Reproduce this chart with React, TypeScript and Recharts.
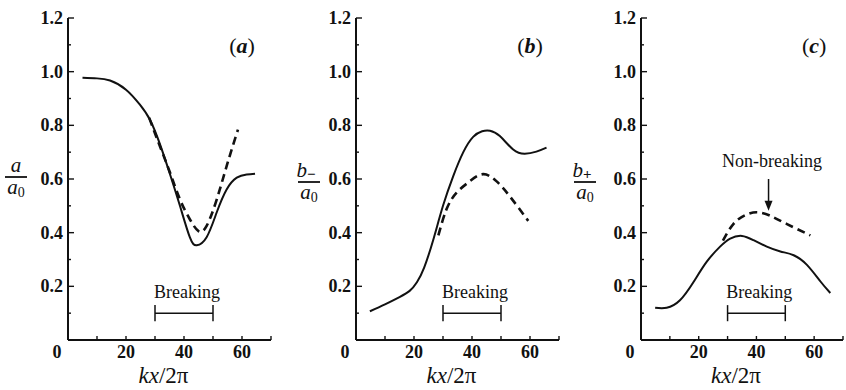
import React from 'react';
import { LineChart, Line, XAxis, YAxis, ReferenceLine, ReferenceDot } from 'recharts';

const FONT = 'Liberation Serif';
const INK = '#111111';

// axes
const xDomain = [0, 70];
const xTicks = [0, 10, 20, 30, 40, 50, 60, 70];
const xLabelTicks = [0, 20, 40, 60];
const yDomain = [0, 1.2];
const yTicks = [0, 0.1, 0.2, 0.3, 0.4, 0.5, 0.6, 0.7, 0.8, 0.9, 1.0, 1.1, 1.2];
const yLabelTicks = [0.2, 0.4, 0.6, 0.8, 1.0, 1.2];

// panel (a): a / a0
const aSolidX = [5, 10, 14.5, 20, 24.8, 28.3, 31.7, 35.2, 38.6, 42, 44.4, 47.8, 51.3, 54.7, 58.2, 61.6, 64.5];
const aSolidY = [0.977, 0.975, 0.967, 0.933, 0.877, 0.82, 0.73, 0.617, 0.5, 0.383, 0.353, 0.383, 0.476, 0.561, 0.605, 0.617, 0.62];
const aDashX = [28, 31.7, 35.2, 38.6, 42, 45, 47.8, 51.3, 54.7, 58.6];
const aDashY = [0.828, 0.722, 0.623, 0.524, 0.45, 0.406, 0.425, 0.524, 0.648, 0.784];

// panel (b): b- / a0
const bSolidX = [4.8, 10, 15, 18.5, 21, 23.5, 26.6, 30, 33.5, 37, 40.4, 43.5, 46.2, 49.6, 54.2, 58.2, 62.2, 65.7];
const bSolidY = [0.107, 0.133, 0.16, 0.183, 0.215, 0.27, 0.372, 0.5, 0.61, 0.7, 0.757, 0.778, 0.78, 0.76, 0.71, 0.694, 0.702, 0.717];
const bDashX = [28.4, 31.2, 34.7, 39.3, 43.9, 48.4, 53, 59.4];
const bDashY = [0.39, 0.487, 0.549, 0.592, 0.618, 0.592, 0.536, 0.444];

// panel (c): b+ / a0
const cSolidX = [4.9, 8.9, 13.5, 18.2, 22.8, 27.4, 30.9, 35, 39, 43.6, 48.3, 52.9, 57.5, 62.2, 65.6];
const cSolidY = [0.12, 0.12, 0.148, 0.216, 0.292, 0.348, 0.378, 0.388, 0.372, 0.348, 0.33, 0.316, 0.28, 0.218, 0.175];
const cDashX = [28.4, 32, 36.1, 40.2, 44.8, 50.6, 58.7];
const cDashY = [0.37, 0.432, 0.465, 0.476, 0.463, 0.432, 0.39];

// annotations
const breakingStart = 30;
const breakingEnd = 50;
const breakingLevel = 0.1;
const breakingCapLow = 0.07;
const breakingCapHigh = 0.13;
const breakingTextX = 41;
const breakingTextY = 0.18;
const panelTagX = 60;
const panelTagY = 1.1;
const nonBreakText = 'Non-breaking';
const nonBreakTextX = 45.4;
const nonBreakTextY = 0.667;
const arrowX = 44.2;
const arrowFromY = 0.6;
const arrowToY = 0.482;

const zip = (xs: number[], ys: number[]) => xs.map((x, i) => ({ x, y: ys[i] }));

const BottomTick = (props: any) => {
  const { x, y, payload } = props;
  const v = payload.value;
  const show = xLabelTicks.includes(v);
  return (
    <g>
      <line x1={x} y1={y} x2={x} y2={y - 4} stroke={INK} strokeWidth={1.4} />
      {show && (
        <text x={v === 0 ? x - 11 : x} y={y + 18} textAnchor="middle" fontFamily={FONT} fontWeight={700} fontSize={18} fill={INK}>
          {v}
        </text>
      )}
    </g>
  );
};

const TopTick = (props: any) => {
  const { x, y } = props;
  return <line x1={x} y1={y} x2={x} y2={y + 4} stroke={INK} strokeWidth={1.4} />;
};

const isMajorY = (v: number) => Math.round(v * 10) % 2 === 0;

const LeftTick = (props: any) => {
  const { x, y, payload } = props;
  const v = payload.value;
  const len = isMajorY(v) ? 6 : 3;
  const show = yLabelTicks.some((t) => Math.abs(t - v) < 1e-6);
  return (
    <g>
      <line x1={x} y1={y} x2={x + len} y2={y} stroke={INK} strokeWidth={1.4} />
      {show && (
        <text x={x - 5} y={y + 6} textAnchor="end" fontFamily={FONT} fontWeight={700} fontSize={18} fill={INK}>
          {v.toFixed(1)}
        </text>
      )}
    </g>
  );
};

const RightTick = (props: any) => {
  const { x, y, payload } = props;
  const len = isMajorY(payload.value) ? 6 : 3;
  return <line x1={x} y1={y} x2={x - len} y2={y} stroke={INK} strokeWidth={1.4} />;
};

const xTitle = (props: any) => {
  const vb = props.viewBox || {};
  const cx = vb.x + vb.width / 2 - 6;
  return (
    <text x={cx} y={vb.y + 43} textAnchor="middle" fontFamily={FONT} fontSize={23} fill={INK}>
      <tspan fontStyle="italic">kx</tspan>
      <tspan>/2π</tspan>
    </text>
  );
};

const makeYTitle = (num: string, sub: string, centerX: number, lineY: number) => (props: any) => {
  const vb = props.viewBox || {};
  const cx = vb.x + centerX;
  return (
    <g>
      <text x={cx - (sub ? 3 : 0)} y={lineY - 5} textAnchor="middle" fontFamily={FONT} fontSize={21} fontStyle="italic" fill={INK}>
        {num}
        {sub && (
          <tspan fontSize={15} fontStyle="normal" fontWeight={700} dy={2}>
            {sub}
          </tspan>
        )}
      </text>
      <line x1={cx - 11} y1={lineY} x2={cx + 11} y2={lineY} stroke={INK} strokeWidth={1.8} />
      <text x={cx} y={lineY + 17} textAnchor="middle" fontFamily={FONT} fontSize={21} fontStyle="italic" fill={INK}>
        a
        <tspan fontSize={14} fontStyle="normal" dy={3}>0</tspan>
      </text>
    </g>
  );
};

type PanelProps = {
  left: number;
  width: number;
  yAxisWidth: number;
  marginRight: number;
  solid: { x: number; y: number }[];
  dashed: { x: number; y: number }[];
  tag: string;
  num: string;
  sub: string;
  titleX: number;
  titleLineY: number;
  arrow?: boolean;
};

const Panel = (p: PanelProps) => (
  <div style={{ position: 'absolute', left: p.left, top: 0 }}>
    <LineChart width={p.width} height={390} margin={{ top: 18, right: p.marginRight, left: 0, bottom: 0 }}>
      <XAxis
        xAxisId={0}
        dataKey="x"
        type="number"
        domain={xDomain}
        ticks={xTicks}
        interval={0}
        allowDataOverflow
        height={50}
        tickSize={0}
        tickMargin={0}
        tickLine={false}
        axisLine={{ stroke: INK, strokeWidth: 2 }}
        tick={<BottomTick />}
        label={{ content: xTitle }}
      />
      <XAxis
        xAxisId="t"
        orientation="top"
        dataKey="x"
        type="number"
        domain={xDomain}
        ticks={xTicks}
        interval={0}
        allowDataOverflow
        height={0}
        tickSize={0}
        tickMargin={0}
        tickLine={false}
        axisLine={{ stroke: INK, strokeWidth: 2 }}
        tick={<TopTick />}
      />
      <YAxis
        yAxisId={0}
        type="number"
        domain={yDomain}
        ticks={yTicks}
        interval={0}
        allowDataOverflow
        width={p.yAxisWidth}
        tickSize={0}
        tickMargin={0}
        tickLine={false}
        axisLine={{ stroke: INK, strokeWidth: 2 }}
        tick={<LeftTick />}
        label={{ content: makeYTitle(p.num, p.sub, p.titleX, p.titleLineY) }}
      />
      <YAxis
        yAxisId="r"
        orientation="right"
        type="number"
        domain={yDomain}
        ticks={yTicks}
        interval={0}
        allowDataOverflow
        width={0}
        tickSize={0}
        tickMargin={0}
        tickLine={false}
        axisLine={{ stroke: INK, strokeWidth: 2 }}
        tick={<RightTick />}
      />
      <Line
        data={p.solid}
        dataKey="y"
        type="natural"
        stroke={INK}
        strokeWidth={2}
        dot={false}
        isAnimationActive={false}
      />
      <Line
        data={p.dashed}
        dataKey="y"
        type="natural"
        stroke={INK}
        strokeWidth={2.6}
        strokeDasharray="8 5"
        dot={false}
        isAnimationActive={false}
      />
      <ReferenceLine
        segment={[
          { x: breakingStart, y: breakingLevel },
          { x: breakingEnd, y: breakingLevel },
        ]}
        stroke={INK}
        strokeWidth={1.5}
      />
      <ReferenceLine
        segment={[
          { x: breakingStart, y: breakingCapLow },
          { x: breakingStart, y: breakingCapHigh },
        ]}
        stroke={INK}
        strokeWidth={1.5}
      />
      <ReferenceLine
        segment={[
          { x: breakingEnd, y: breakingCapLow },
          { x: breakingEnd, y: breakingCapHigh },
        ]}
        stroke={INK}
        strokeWidth={1.5}
      />
      <ReferenceDot
        x={breakingTextX}
        y={breakingTextY}
        r={0}
        shape={(s: any) => (
          <text x={s.cx} y={s.cy} dy="0.35em" textAnchor="middle" fontFamily={FONT} fontSize={18} fill={INK}>
            Breaking
          </text>
        )}
      />
      <ReferenceDot
        x={panelTagX}
        y={panelTagY}
        r={0}
        shape={(s: any) => (
          <text x={s.cx} y={s.cy} dy="0.35em" textAnchor="middle" fontFamily={FONT} fontSize={22} fill={INK}>
            (<tspan fontStyle="italic" fontWeight={700}>{p.tag}</tspan>)
          </text>
        )}
      />
      {p.arrow && (
        <ReferenceLine
          segment={[
            { x: arrowX, y: arrowFromY },
            { x: arrowX, y: arrowToY + 0.02 },
          ]}
          stroke={INK}
          strokeWidth={1.5}
        />
      )}
      {p.arrow && (
        <ReferenceDot
          x={arrowX}
          y={arrowToY}
          r={0}
          shape={(s: any) => (
            <path d={`M${s.cx - 4},${s.cy - 10} L${s.cx + 4},${s.cy - 10} L${s.cx},${s.cy} Z`} fill={INK} />
          )}
        />
      )}
      {p.arrow && (
        <ReferenceDot
          x={nonBreakTextX}
          y={nonBreakTextY}
          r={0}
          shape={(s: any) => (
            <text x={s.cx} y={s.cy} dy="0.35em" textAnchor="middle" fontFamily={FONT} fontSize={18} fill={INK}>
              {nonBreakText}
            </text>
          )}
        />
      )}
    </LineChart>
  </div>
);

export default function App() {
  return (
    <div style={{ position: 'absolute', left: 0, top: 0, width: 846, height: 390, background: '#ffffff', overflow: 'hidden' }}>
      <Panel
        left={0}
        width={282}
        yAxisWidth={68}
        marginRight={11}
        solid={zip(aSolidX, aSolidY)}
        dashed={zip(aDashX, aDashY)}
        tag="a"
        num="a"
        sub=""
        titleX={16}
        titleLineY={177}
      />
      <Panel
        left={282}
        width={287}
        yAxisWidth={74}
        marginRight={10}
        solid={zip(bSolidX, bSolidY)}
        dashed={zip(bDashX, bDashY)}
        tag="b"
        num="b"
        sub="−"
        titleX={27}
        titleLineY={182}
      />
      <Panel
        left={569}
        width={277}
        yAxisWidth={72}
        marginRight={3}
        solid={zip(cSolidX, cSolidY)}
        dashed={zip(cDashX, cDashY)}
        tag="c"
        num="b"
        sub="+"
        titleX={16}
        titleLineY={182}
        arrow
      />
    </div>
  );
}
